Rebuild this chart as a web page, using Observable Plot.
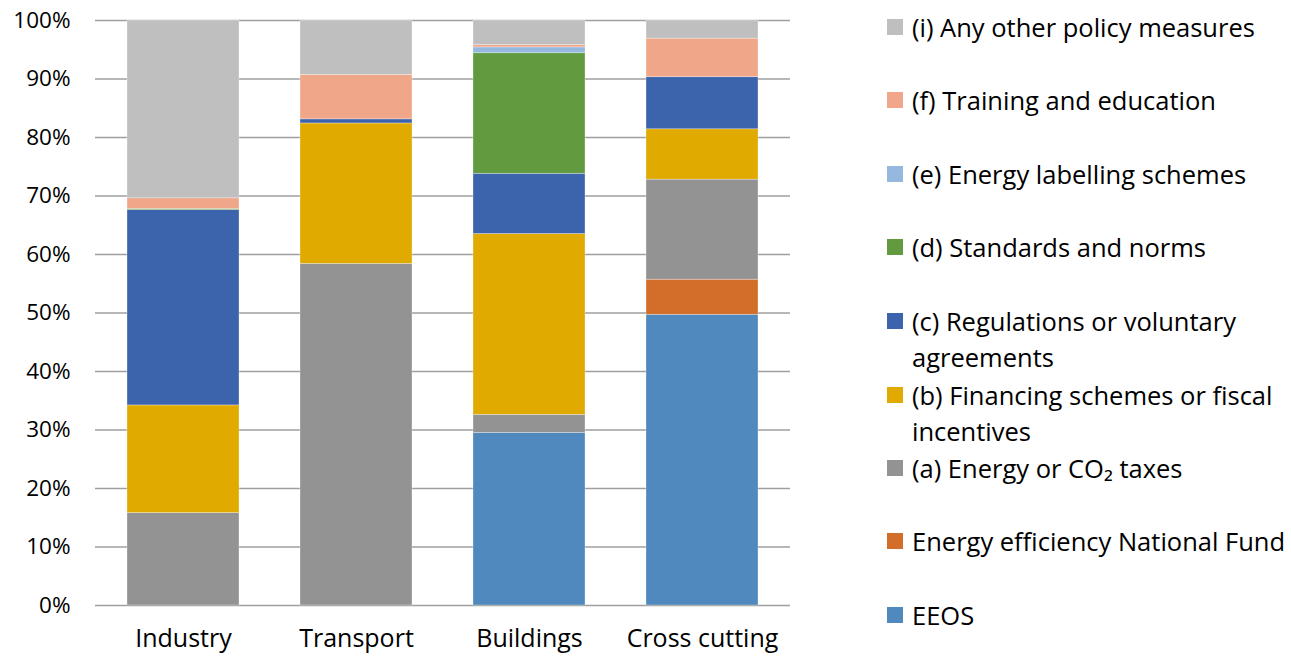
<!DOCTYPE html>
<html>
<head>
<meta charset="utf-8">
<script src="https://cdn.jsdelivr.net/npm/d3@7"></script>
<script src="https://cdn.jsdelivr.net/npm/@observablehq/plot@0.6"></script>
<style>
  html, body { margin: 0; padding: 0; background: #fff; overflow: hidden; }
  #wrap { position: relative; width: 1291px; height: 656px; font-family: "Open Sans", sans-serif; color: #000; }
  #chart { position: absolute; left: 0; top: 0; }
  .lg { position: absolute; left: 887px; font-size: 25.5px; line-height: 36px; white-space: nowrap; }
  .lg .sw { position: absolute; left: 0; top: 10px; width: 16px; height: 16px; }
  .lg .tx { position: absolute; left: 25px; top: 0; }
</style>
</head>
<body>
<div id="wrap"><div id="chart"></div></div>
<script>
// ---- data (percent shares per sector) ----
const categories = ["Industry", "Transport", "Buildings", "Cross cutting"];
const seriesNames = [
  "EEOS",
  "Energy efficiency National Fund",
  "(a) Energy or CO₂ taxes",
  "(b) Financing schemes or fiscal incentives",
  "(c) Regulations or voluntary agreements",
  "(d) Standards and norms",
  "(e) Energy labelling schemes",
  "(f) Training and education",
  "(i) Any other policy measures"
];
const eeos        = [0,    0,    29.5, 49.7];
const nationalFund= [0,    0,    0,    6.0];
const taxes       = [15.8, 58.4, 3.1,  17.1];
const financing   = [18.4, 24.0, 30.9, 8.6];
const regulations = [33.4, 0.7,  10.3, 8.9];
const standards   = [0.2,  0,    20.6, 0];
const labelling   = [0,    0,    1.0,  0];
const training    = [1.8,  7.6,  0.4,  6.6];
const other       = [30.4, 9.3,  4.2,  3.1];
const seriesColors = ["#4F89BD", "#D26E2A", "#939393", "#E0AA00", "#3C64AC", "#629A3F", "#95B8DF", "#F0A789", "#BFBFBF"];
const yTicks = [0, 10, 20, 30, 40, 50, 60, 70, 80, 90, 100];
// legend text lines (display wrapping as in the original)
const legendLines = {
  "(c) Regulations or voluntary agreements": ["(c) Regulations or voluntary", "agreements"],
  "(b) Financing schemes or fiscal incentives": ["(b) Financing schemes or fiscal", "incentives"],
  "(a) Energy or CO₂ taxes": ["(a) Energy or CO₂ taxes"]
};

const seriesValues = [eeos, nationalFund, taxes, financing, regulations, standards, labelling, training, other];
const rows = [];
seriesNames.forEach((s, si) => {
  categories.forEach((c, ci) => {
    rows.push({category: c, series: s, value: seriesValues[si][ci]});
  });
});

const plot = Plot.plot({
  width: 795,
  height: 656,
  marginLeft: 95,
  marginRight: 5,
  marginTop: 20,
  marginBottom: 51,
  style: {fontFamily: "Open Sans, sans-serif", fontSize: "23px", color: "#000", background: "#fff"},
  x: {domain: categories, paddingInner: 0.355, paddingOuter: 0.1775, label: null},
  y: {domain: [0, 100], label: null},
  color: {domain: seriesNames, range: seriesColors},
  marks: [
    Plot.ruleY(yTicks, {stroke: "#9f9f9f", strokeWidth: 1.3}),
    Plot.ruleX([0], {frameAnchor: "left", y1: 0, y2: 100, stroke: "#a8a8a8", strokeWidth: 1.5}),
    Plot.barY(rows, Plot.stackY({order: seriesNames}, {
      x: "category", y: "value", fill: "series", z: "series",
      stroke: "#ffffff", strokeWidth: 0.6, strokeOpacity: 0.5
    })),
    Plot.axisY(yTicks, {tickSize: 0, tickPadding: 25, tickFormat: d => d + "%", fontSize: 22.5, label: null}),
    Plot.axisX({tickSize: 0, tickPadding: 24, fontSize: 25, label: null})
  ]
});
document.getElementById("chart").appendChild(plot);

// ---- legend (top to bottom: reverse stack order) ----
const wrap = document.getElementById("wrap");
const legendOrder = seriesNames.slice().reverse();
const legendCenters = [27, 100, 174, 247, 321, 395, 468, 541, 615];
legendOrder.forEach((name, i) => {
  const idx = seriesNames.indexOf(name);
  const item = document.createElement("div");
  item.className = "lg";
  item.style.top = (legendCenters[i] - 18) + "px";
  const sw = document.createElement("div");
  sw.className = "sw";
  sw.style.background = seriesColors[idx];
  const tx = document.createElement("div");
  tx.className = "tx";
  const lines = legendLines[name] || [name];
  lines.forEach((l, k) => {
    if (k) tx.appendChild(document.createElement("br"));
    tx.appendChild(document.createTextNode(l));
  });
  item.appendChild(sw);
  item.appendChild(tx);
  wrap.appendChild(item);
});
</script>
</body>
</html>
